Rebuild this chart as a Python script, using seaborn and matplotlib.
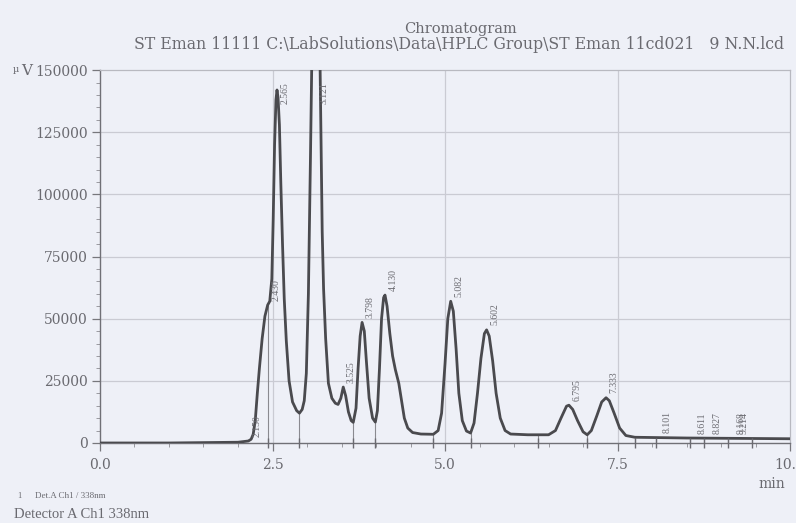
import numpy as np
import pandas as pd
import matplotlib
matplotlib.use("Agg")
import matplotlib.pyplot as plt
import seaborn as sns

# Detector trace (retention time in min, signal in uV)
time_min = [0.00, 1.00, 2.00, 2.15, 2.19, 2.22, 2.25, 2.28, 2.31, 2.35, 2.39, 2.43, 2.46,
            2.49, 2.51, 2.53, 2.55, 2.565, 2.58, 2.60, 2.62, 2.645, 2.67, 2.70, 2.74, 2.79,
            2.85, 2.89, 2.93, 2.96, 2.99, 3.02, 3.05, 3.08, 3.121, 3.16, 3.19, 3.22, 3.24,
            3.27, 3.31, 3.36, 3.41, 3.45, 3.49, 3.525, 3.56, 3.60, 3.64, 3.67, 3.71, 3.74,
            3.77, 3.798, 3.83, 3.86, 3.90, 3.95, 3.99, 4.02, 4.05, 4.08, 4.11, 4.13, 4.16,
            4.20, 4.24, 4.28, 4.33, 4.37, 4.41, 4.46, 4.53, 4.65, 4.83, 4.90, 4.95, 5.00,
            5.04, 5.082, 5.12, 5.16, 5.20, 5.25, 5.31, 5.37, 5.42, 5.47, 5.52, 5.57, 5.602,
            5.64, 5.69, 5.74, 5.80, 5.87, 5.95, 6.20, 6.50, 6.60, 6.68, 6.76, 6.795, 6.85,
            6.92, 7.00, 7.06, 7.12, 7.20, 7.27, 7.333, 7.38, 7.45, 7.53, 7.62, 7.75, 8.50,
            10.00]
signal_uv = [0, 0, 300, 800, 1500, 3500, 9000, 20000, 30000, 42000, 51000, 55500, 57000,
             66000, 90000, 120000, 138000, 142000, 139000, 128000, 105000, 80000, 58000,
             41000, 25000, 16500, 13000, 12000, 13500, 17000, 28000, 60000, 115000, 175000,
             230000, 200000, 150000, 85000, 62000, 42000, 24000, 18000, 16000, 15500, 18000,
             22500, 19000, 12500, 9000, 8300, 14000, 30000, 43000, 48500, 45000, 33000, 18000,
             10000, 8400, 13000, 30000, 50000, 58500, 59500, 55000, 44000, 35000, 29500,
             24000, 17000, 10000, 6000, 4200, 3600, 3500, 5000, 12000, 32000, 50000, 57000,
             53000, 38000, 20000, 9000, 4800, 4000, 8000, 20000, 34000, 44000, 45500, 43000,
             33000, 20000, 10000, 5000, 3600, 3300, 3300, 5000, 10000, 14800, 15200, 13500,
             9000, 4500, 3300, 5000, 11000, 16500, 18200, 17000, 12000, 6000, 3000, 2300,
             2000, 1700]

# Integrated peaks (retention times, min) and valley / peak-end marks
peak_times = [2.15, 2.43, 2.565, 3.121, 3.525, 3.798, 4.13, 5.082, 5.602, 6.795, 7.333,
              8.101, 8.611, 8.827, 9.168, 9.214]
valley_times = [2.43, 2.89, 3.67, 3.99, 4.83, 5.37, 6.35, 7.06, 7.75, 8.05, 8.55, 8.75,
                9.10, 9.45]

y_ticks = [0, 25000, 50000, 75000, 100000, 125000, 150000]
x_ticks = [0.0, 2.5, 5.0, 7.5, 10.0]

title_main = "Chromatogram"
title_file = r"ST Eman 11111 C:\LabSolutions\Data\HPLC Group\ST Eman 11cd021   9 N.N.lcd"

df = pd.DataFrame({"time": time_min, "signal": signal_uv})

sns.set_theme(style="ticks")
plt.rcParams["font.family"] = ["DejaVu Serif", "Liberation Serif"]

paper = "#eef0f7"
ink = "#4a4a4e"
text_c = "#6a6a70"
grid_c = "#cacbd3"
times_font = ["Liberation Serif", "DejaVu Serif"]

fig = plt.figure(figsize=(7.96, 5.23), dpi=100, facecolor=paper)
ax = fig.add_axes([0.1256, 0.153, 0.867, 0.713], facecolor=paper)

ax.set_xlim(0, 10)
ax.set_ylim(0, 150000)

# grid
for yv in y_ticks[1:-1]:
    ax.axhline(yv, color=grid_c, lw=0.9, zorder=0)
for xv in x_ticks[1:-1]:
    ax.axvline(xv, color=grid_c, lw=0.9, zorder=0)

sns.lineplot(data=df, x="time", y="signal", ax=ax, color=ink, lw=2.0,
             estimator=None, sort=False, zorder=3)

# drop lines and baseline marks at peak boundaries
valley_sig = np.interp(valley_times, time_min, signal_uv)
ax.vlines(valley_times, 0, valley_sig, color="#8a8a90", lw=0.8, zorder=2)
ax.plot(valley_times, np.zeros(len(valley_times)), ls="none", marker="|", ms=7,
        mew=1.0, color="#6a6a70", clip_on=False, zorder=4)

# retention time labels
peak_sig = np.interp(peak_times, time_min, signal_uv)
for t, s in zip(peak_times, peak_sig):
    yb = min(s + 1800, 136500)
    ax.text(t + 0.12, yb, f"{t:.3f}", rotation=90, ha="center", va="bottom",
            fontsize=7, color=text_c, zorder=5, family=times_font)

ax.set_xticks(x_ticks)
ax.set_xticklabels([f"{v:.1f}" for v in x_ticks])
ax.set_yticks(y_ticks)
ax.set_yticklabels([str(v) for v in y_ticks])
ax.set_xticks(np.arange(0, 10.01, 0.5), minor=True)
ax.set_yticks(np.arange(0, 150001, 5000), minor=True)
ax.tick_params(axis="both", which="major", labelsize=10, colors="#77777c",
               labelcolor=text_c, length=6, width=0.9)
ax.tick_params(axis="both", which="minor", length=3, width=0.7, colors="#9a9aa0")
ax.tick_params(axis="x", which="major", pad=5)
ax.tick_params(axis="y", which="major", pad=3)
ax.set_xlabel("")
ax.set_ylabel("")

for side in ["left", "bottom"]:
    ax.spines[side].set_color("#707076")
    ax.spines[side].set_linewidth(1.0)
for side in ["top", "right"]:
    ax.spines[side].set_color("#b8b9c0")
    ax.spines[side].set_linewidth(0.9)

fig.text(0.578, 0.945, title_main, ha="center", va="center", fontsize=10.5, color=text_c)
fig.text(0.577, 0.915, title_file, ha="center", va="center", fontsize=11.3, color=text_c)
fig.text(0.016, 0.868, "µ", ha="left", va="center", fontsize=7, color=text_c)
fig.text(0.026, 0.865, "V", ha="left", va="center", fontsize=11, color=text_c)
fig.text(0.970, 0.075, "min", ha="center", va="center", fontsize=10, color=text_c)
fig.text(0.022, 0.051, "1", ha="left", va="center", fontsize=6, color=text_c,
         family=times_font)
fig.text(0.044, 0.051, "Det.A Ch1 / 338nm", ha="left", va="center", fontsize=6.5,
         color=text_c, family=times_font)
fig.text(0.018, 0.016, "Detector A Ch1 338nm", ha="left", va="center", fontsize=10.5,
         color=text_c, family=times_font)

fig.savefig("out.png", dpi=100, facecolor=paper)
